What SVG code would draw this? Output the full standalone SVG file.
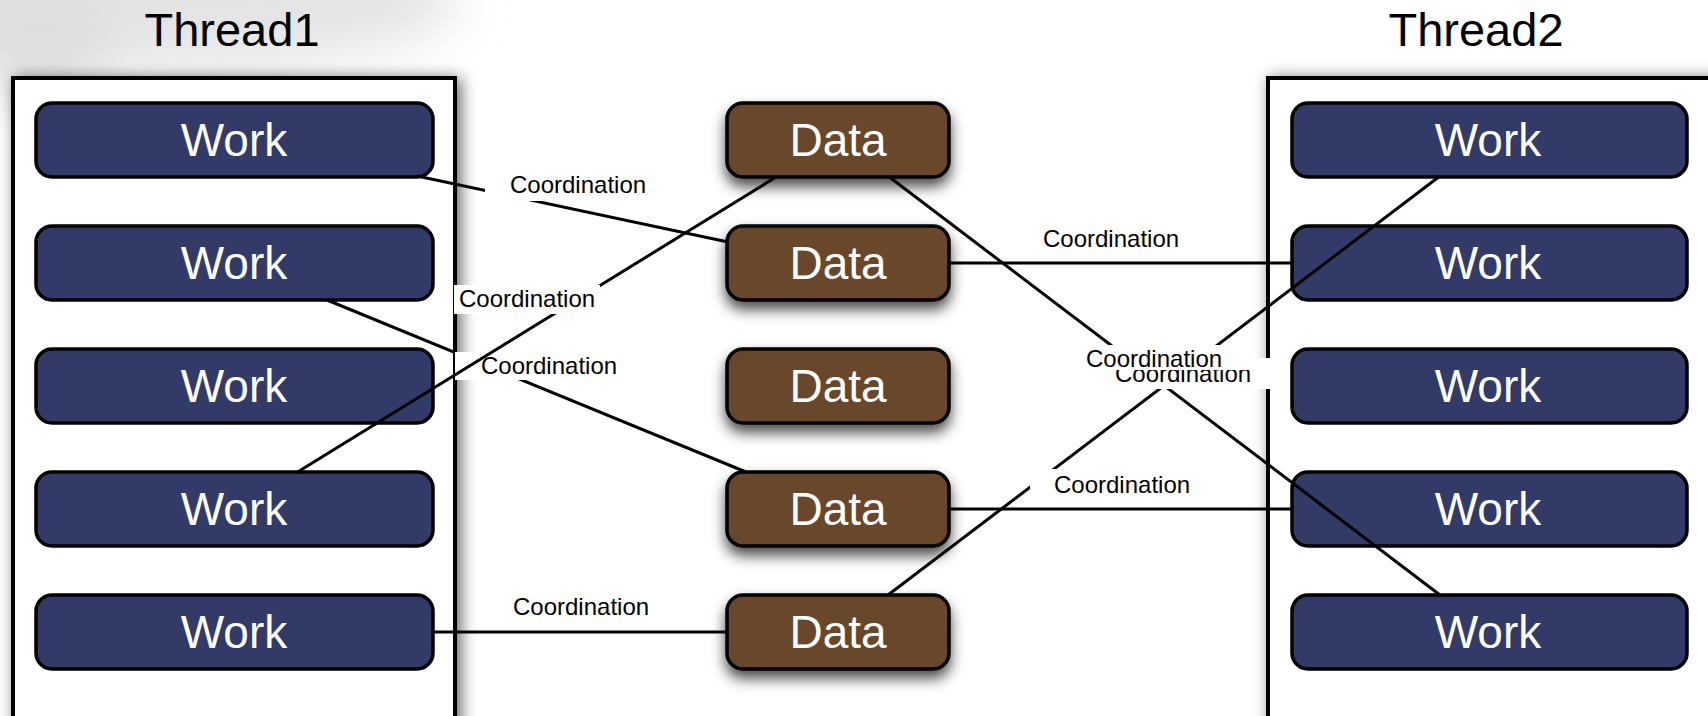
<svg xmlns="http://www.w3.org/2000/svg" width="1708" height="716" viewBox="0 0 1708 716">
  <defs>
    <style>
      .thread{fill:#fff;stroke:#000;stroke-width:4}
      .work{fill:#323a68;stroke:#000;stroke-width:3.5}
      .data{fill:#68462a;stroke:#000;stroke-width:3.5}
      .name{font-family:"Liberation Sans",Arial,sans-serif;font-size:46px;fill:#fff;text-anchor:middle}
      .title{font-family:"Liberation Sans",Arial,sans-serif;font-size:47px;fill:#000;text-anchor:middle}
      .wire{stroke:#000;stroke-width:3;fill:none}
      .tag rect{fill:#fff}
      .tag text{font-family:"Liberation Sans",Arial,sans-serif;font-size:24px;fill:#000}
    </style>
    <filter id="panelShadow" x="-10%" y="-10%" width="125%" height="130%">
      <feDropShadow dx="4" dy="2" stdDeviation="8" flood-color="#000" flood-opacity="0.6"/>
    </filter>
    <filter id="dataShadow" x="-20%" y="-40%" width="140%" height="210%">
      <feDropShadow dx="0" dy="8" stdDeviation="7" flood-color="#000" flood-opacity="0.7"/>
    </filter>
    <filter id="soft" x="-50%" y="-50%" width="200%" height="200%">
      <feGaussianBlur stdDeviation="25"/>
    </filter>
  </defs>

  <!-- page background with a soft grey wash in the upper left -->
  <rect x="0" y="0" width="1708" height="716" fill="#fff"/>
  <g filter="url(#soft)" opacity="0.55">
    <ellipse cx="160" cy="0" rx="300" ry="70" fill="#cfcfcf"/>
    <ellipse cx="40" cy="40" rx="80" ry="60" fill="#c4c4c4"/>
  </g>

  <!-- thread headings -->
  <text class="title" x="232" y="46">Thread1</text>
  <text class="title" x="1476" y="46">Thread2</text>

  <!-- thread panels -->
  <g id="thread1" filter="url(#panelShadow)">
    <rect class="thread" x="13" y="78" width="442" height="700"/>
  </g>
  <g id="thread2" filter="url(#panelShadow)">
    <rect class="thread" x="1268" y="78" width="500" height="700"/>
  </g>

  <!-- work items, thread 1 -->
  <g id="t1-work1"><rect class="work" x="36" y="103" width="397" height="74" rx="16"/><text class="name" x="234" y="156">Work</text></g>
  <g id="t1-work2"><rect class="work" x="36" y="226" width="397" height="74" rx="16"/><text class="name" x="234" y="279">Work</text></g>
  <g id="t1-work3"><rect class="work" x="36" y="349" width="397" height="74" rx="16"/><text class="name" x="234" y="402">Work</text></g>
  <g id="t1-work4"><rect class="work" x="36" y="472" width="397" height="74" rx="16"/><text class="name" x="234" y="525">Work</text></g>
  <g id="t1-work5"><rect class="work" x="36" y="595" width="397" height="74" rx="16"/><text class="name" x="234" y="648">Work</text></g>

  <!-- work items, thread 2 -->
  <g id="t2-work1"><rect class="work" x="1292" y="103" width="395" height="74" rx="16"/><text class="name" x="1488" y="156">Work</text></g>
  <g id="t2-work2"><rect class="work" x="1292" y="226" width="395" height="74" rx="16"/><text class="name" x="1488" y="279">Work</text></g>
  <g id="t2-work3"><rect class="work" x="1292" y="349" width="395" height="74" rx="16"/><text class="name" x="1488" y="402">Work</text></g>
  <g id="t2-work4"><rect class="work" x="1292" y="472" width="395" height="74" rx="16"/><text class="name" x="1488" y="525">Work</text></g>
  <g id="t2-work5"><rect class="work" x="1292" y="595" width="395" height="74" rx="16"/><text class="name" x="1488" y="648">Work</text></g>

  <!-- shared data -->
  <g id="data1"><rect class="data" x="727" y="103" width="222" height="74" rx="16" filter="url(#dataShadow)"/><text class="name" x="838" y="156">Data</text></g>
  <g id="data2"><rect class="data" x="727" y="226" width="222" height="74" rx="16" filter="url(#dataShadow)"/><text class="name" x="838" y="279">Data</text></g>
  <g id="data3"><rect class="data" x="727" y="349" width="222" height="74" rx="16" filter="url(#dataShadow)"/><text class="name" x="838" y="402">Data</text></g>
  <g id="data4"><rect class="data" x="727" y="472" width="222" height="74" rx="16" filter="url(#dataShadow)"/><text class="name" x="838" y="525">Data</text></g>
  <g id="data5"><rect class="data" x="727" y="595" width="222" height="74" rx="16" filter="url(#dataShadow)"/><text class="name" x="838" y="648">Data</text></g>

  <!-- coordination links with their labels -->
  <g id="connectors">
    <line class="wire" x1="417" y1="176" x2="728" y2="242"/>
    <g class="tag"><rect x="485" y="172" width="175" height="29"/><text x="510" y="193">Coordination</text></g>

    <line class="wire" x1="327" y1="300" x2="746" y2="472"/>
    <g class="tag"><rect x="455" y="352" width="185" height="28"/><text x="481" y="374">Coordination</text></g>

    <line class="wire" x1="776" y1="177" x2="296" y2="473"/>
    <g class="tag"><rect x="454" y="285" width="146" height="29"/><text x="459" y="307">Coordination</text></g>

    <line class="wire" x1="433" y1="632" x2="727" y2="632"/>
    <g class="tag"><rect x="500" y="593" width="165" height="28"/><text x="513" y="615">Coordination</text></g>

    <line class="wire" x1="949" y1="263" x2="1292" y2="263"/>
    <g class="tag"><rect x="1030" y="226" width="165" height="27"/><text x="1043" y="247">Coordination</text></g>

    <line class="wire" x1="888" y1="176" x2="1440" y2="595"/>
    <line class="wire" x1="1440" y1="176" x2="888" y2="595"/>
    <g class="tag"><rect x="1108" y="358" width="162" height="31"/><text x="1115" y="382">Coordination</text></g>
    <g class="tag"><rect x="1082" y="345" width="171" height="25"/><text x="1086" y="367">Coordination</text></g>

    <line class="wire" x1="949" y1="509" x2="1292" y2="509"/>
    <g class="tag"><rect x="1030" y="469" width="175" height="29"/><text x="1054" y="493">Coordination</text></g>
  </g>
</svg>
